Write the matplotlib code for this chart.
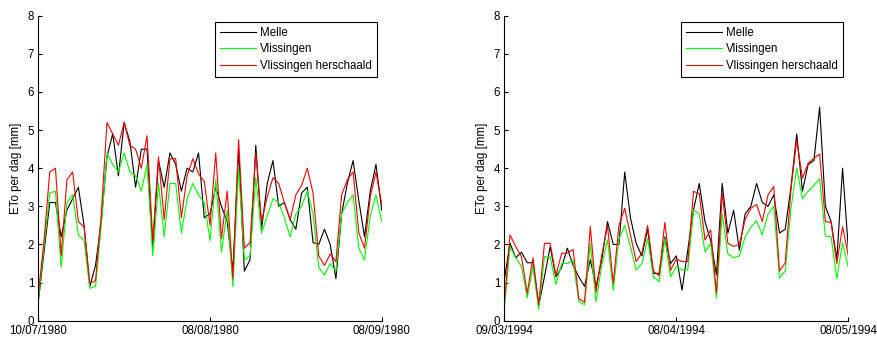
import matplotlib
matplotlib.use("Agg")
import matplotlib.pyplot as plt
import numpy as np

plt.rcParams['font.family'] = ['Liberation Sans', 'DejaVu Sans']

# ---------------- data ----------------
series_labels = ["Melle", "Vlissingen", "Vlissingen herschaald"]
ylabel = "ETo per dag [mm]"

left_ticklabels = ["10/07/1980", "08/08/1980", "08/09/1980"]
right_ticklabels = ["09/03/1994", "08/04/1994", "08/05/1994"]
tick_days = [0, 30, 60]

left_melle = [0.5, 1.8, 3.1, 3.1, 2.2, 2.9, 3.2, 3.5, 2.5, 0.9,
              1.45, 2.6, 4.3, 4.9, 3.8, 5.2, 4.7, 3.5, 4.5, 4.5,
              1.9, 4.2, 3.5, 4.4, 4.1, 3.4, 4.0, 3.9, 4.4, 2.7,
              2.8, 3.5, 3.0, 2.6, 1.3, 4.5, 1.3, 1.6, 4.6, 2.4,
              3.6, 4.2, 3.0, 3.1, 2.65, 2.4, 3.35, 3.5, 2.05, 2.0,
              2.4, 2.0, 1.1, 2.8, 3.6, 4.2, 3.15, 2.2, 3.4, 4.1, 2.9]
left_vlis = [0.55, 1.95, 3.35, 3.4, 1.4, 3.1, 3.3, 2.25, 2.1, 0.85,
             0.9, 2.5, 4.4, 4.1, 3.9, 4.4, 3.9, 3.8, 3.4, 4.1,
             1.7, 3.6, 2.2, 3.6, 3.6, 2.3, 3.2, 3.6, 3.3, 3.1,
             2.1, 3.7, 1.8, 2.9, 0.9, 4.0, 1.6, 1.7, 3.75, 2.3,
             2.75, 3.2, 3.1, 2.7, 2.2, 2.8, 3.0, 3.4, 2.8, 1.4,
             1.2, 1.5, 1.3, 2.8, 3.1, 3.3, 1.9, 1.6, 2.75, 3.3, 2.6]
left_vlis_hs = [0.7, 2.1, 3.9, 4.0, 1.7, 3.7, 3.9, 2.6, 2.45, 0.98,
                1.05, 2.8, 5.2, 4.9, 4.6, 5.2, 4.6, 4.5, 4.0, 4.85,
                2.1, 4.3, 2.65, 4.25, 4.25, 2.7, 3.8, 4.25, 3.85, 3.65,
                2.5, 4.4, 2.15, 3.4, 1.1, 4.75, 1.9, 2.05, 4.4, 2.6,
                3.25, 3.75, 3.6, 3.1, 2.65, 3.3, 3.55, 4.0, 3.35, 1.7,
                1.45, 1.75, 1.55, 3.3, 3.7, 3.9, 2.3, 1.9, 3.25, 3.9, 3.05]

right_melle = [1.07, 2.03, 1.65, 1.8, 1.52, 1.52, 0.4, 1.15, 1.94, 1.15,
               1.4, 1.9, 1.45, 1.15, 0.9, 1.6, 0.9, 1.6, 2.6, 2.0,
               2.0, 3.9, 2.7, 2.03, 1.7, 2.4, 1.24, 1.24, 2.2, 1.5,
               1.7, 0.8, 1.85, 2.9, 3.6, 2.6, 2.1, 1.2, 3.6, 2.3,
               2.9, 1.85, 2.8, 3.0, 3.6, 3.1, 3.0, 3.3, 2.3, 2.4,
               3.5, 4.9, 3.4, 4.1, 4.2, 5.6, 3.0, 2.6, 1.6, 4.0, 1.9]
right_vlis = [0.32, 1.94, 1.65, 1.42, 0.6, 1.42, 0.3, 1.68, 1.68, 0.95,
              1.5, 1.5, 1.58, 0.5, 0.42, 2.03, 0.5, 1.46, 2.12, 0.8,
              2.15, 2.5, 1.94, 1.33, 1.5, 2.16, 1.15, 1.02, 2.16, 1.15,
              1.42, 1.33, 1.33, 2.9, 2.8, 1.8, 2.03, 0.6, 2.8, 1.75,
              1.65, 1.7, 2.2, 2.45, 2.62, 2.25, 2.8, 3.0, 1.12, 1.3,
              2.95, 4.0, 3.2, 3.4, 3.55, 3.72, 2.22, 2.2, 1.1, 2.05, 1.4]
right_vlis_hs = [0.45, 2.25, 1.94, 1.68, 0.72, 1.65, 0.42, 2.03, 2.03, 1.18,
                 1.77, 1.77, 1.87, 0.58, 0.48, 2.47, 0.75, 1.72, 2.5, 0.98,
                 2.5, 2.95, 2.25, 1.55, 1.77, 2.5, 1.3, 1.18, 2.58, 1.32,
                 1.62, 1.55, 1.55, 3.39, 3.34, 2.12, 2.38, 0.72, 3.34, 2.03,
                 1.95, 2.0, 2.65, 2.95, 3.05, 2.6, 3.3, 3.52, 1.3, 1.52,
                 3.45, 4.74, 3.74, 4.13, 4.26, 4.37, 2.6, 2.58, 1.5, 2.47, 1.7]

colors = ['#000000', '#00ff00', '#ff0000']

# ---------------- figure ----------------
W, H = 877, 340
fig = plt.figure(figsize=(W / 100, H / 100), dpi=100)
FS = 8.3


def px_axes(x0, x1, ytop, ybot):
    return fig.add_axes([x0 / W, (H - ybot) / H, (x1 - x0) / W, (ybot - ytop) / H])


def draw(ax, series, ticklabels, legend_anchor):
    days = np.arange(len(series[0]))
    for s, c, lab in zip(series, colors, series_labels):
        ax.plot(days, s, color=c, lw=0.8, label=lab)
    ax.set_xlim(0, 60)
    ax.set_ylim(0, 8)
    ax.set_yticks(range(0, 9))
    ax.set_xticks(tick_days)
    ax.set_xticklabels(ticklabels)
    ax.spines['top'].set_visible(False)
    ax.spines['right'].set_visible(False)
    for sp in ('left', 'bottom'):
        ax.spines[sp].set_linewidth(0.8)
        ax.spines[sp].set_color('#000000')
    ax.tick_params(direction='in', length=3, width=0.8, labelsize=FS,
                   colors='#000000', pad=3)
    ax.set_ylabel(ylabel, fontsize=FS, labelpad=4)
    leg = ax.legend(loc='upper right', bbox_to_anchor=legend_anchor,
                    borderaxespad=0, fontsize=FS, fancybox=False,
                    edgecolor='#000000', framealpha=1, handlelength=3.1,
                    handletextpad=0.35, labelspacing=0.4, borderpad=0.42)
    leg.get_frame().set_linewidth(0.8)


ax1 = px_axes(38.3, 381.7, 15.7, 320.7)
draw(ax1, [left_melle, left_vlis, left_vlis_hs], left_ticklabels,
     ((376.7 - 38.3) / 343.4, (320.7 - 22) / 305))

ax2 = px_axes(504.3, 848.3, 15.7, 320.7)
draw(ax2, [right_melle, right_vlis, right_vlis_hs], right_ticklabels,
     ((842.7 - 504.3) / 344.0, (320.7 - 22) / 305))

fig.savefig('out.png', dpi=100)
